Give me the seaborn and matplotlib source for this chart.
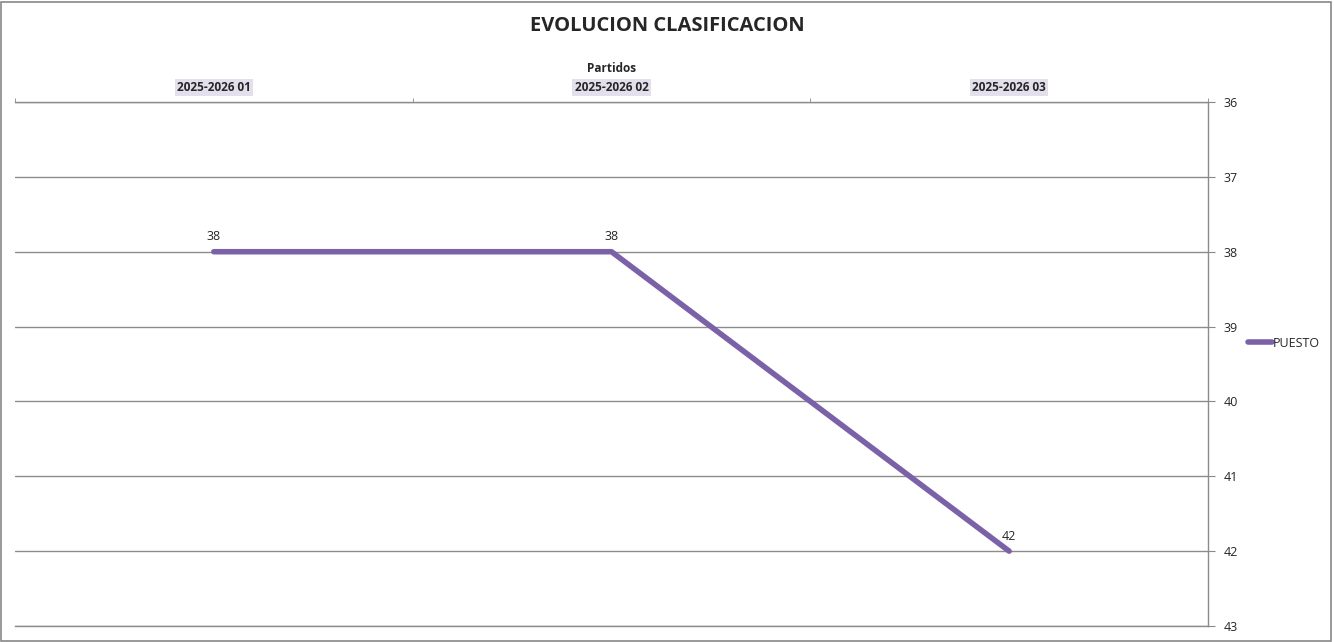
import matplotlib.pyplot as plt
import matplotlib.patches as mpatches
import pandas as pd
import seaborn as sns

# data
partidos = ['2025-2026 01', '2025-2026 02', '2025-2026 03']
puesto = [38, 38, 42]

df = pd.DataFrame({'partido': partidos, 'puesto': puesto})

sns.set_style('white')
plt.rcParams['font.family'] = ['Open Sans', 'DejaVu Sans']

fig = plt.figure(figsize=(13.34, 6.42), dpi=100)
ax = fig.add_axes([15 / 1334, 1 - 626 / 642, (1208 - 15) / 1334, (626 - 102) / 642])

purple = '#7B62A8'
sns.lineplot(data=df, x='partido', y='puesto', ax=ax, color=purple,
             linewidth=4, solid_capstyle='round', label='PUESTO', sort=False)

# data labels
for i, v in enumerate(puesto):
    ax.annotate(str(v), (i, v), xytext=(0, 6), textcoords='offset points',
                ha='center', va='bottom', fontsize=9)

# y axis: inverted, on the right
ax.set_ylim(43, 36)
ax.set_yticks(range(36, 44))
ax.yaxis.tick_right()
ax.tick_params(axis='y', direction='out', length=5, color='#888888',
               labelsize=9, pad=6, right=True, left=False)
ax.grid(axis='y', color='#8c8c8c', linewidth=1)
ax.set_axisbelow(True)
ax.set_ylabel('')

# x axis: on top, categories
ax.set_xlim(-0.5, 2.5)
ax.xaxis.tick_top()
ax.set_xticks(range(len(partidos)))
ax.set_xticklabels(partidos, fontsize=8.5, fontweight='bold')
for t in ax.get_xticklabels():
    t.set_bbox(dict(facecolor='#E4DFEC', edgecolor='none', pad=1.5))
ax.tick_params(axis='x', which='major', length=0, pad=6)
ax.set_xticks([-0.5, 0.5, 1.5, 2.5], minor=True)
ax.tick_params(axis='x', which='minor', direction='out', length=3,
               color='#888888', top=True, bottom=False)
ax.set_xlabel('Partidos', fontsize=8.5, fontweight='bold', labelpad=6)
ax.xaxis.set_label_position('top')

ax.spines['left'].set_visible(False)
for side in ['top', 'right', 'bottom']:
    ax.spines[side].set_color('#8c8c8c')
    ax.spines[side].set_linewidth(1)

leg = ax.legend(loc='center left', bbox_to_anchor=(1.024, 0.54), frameon=False,
                fontsize=9, handlelength=1.9, handletextpad=0.1)

fig.suptitle('EVOLUCION CLASIFICACION', fontsize=14.5, fontweight='bold',
             y=1 - 26 / 642, va='center')

# outer chart border
fig.patches.append(mpatches.Rectangle((0.001, 0.002), 0.997, 0.995,
                                      transform=fig.transFigure, fill=False,
                                      edgecolor='#888888', linewidth=1.2))

fig.savefig('out.png', dpi=100)
